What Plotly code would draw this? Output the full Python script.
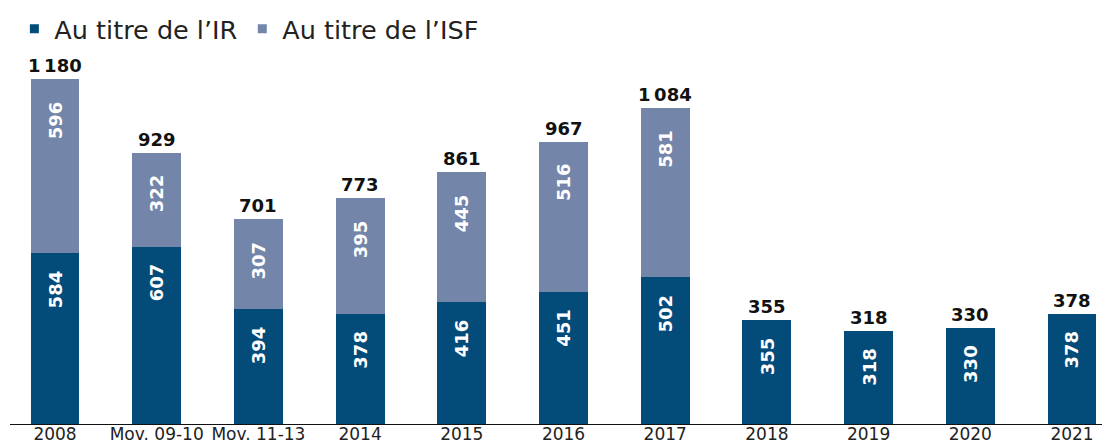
import plotly.graph_objects as go

categories = ["2008", "Mov. 09-10", "Mov. 11-13", "2014", "2015", "2016", "2017", "2018", "2019", "2020", "2021"]
ir_values = [584, 607, 394, 378, 416, 451, 502, 355, 318, 330, 378]
isf_values = [596, 322, 307, 395, 445, 516, 581, 0, 0, 0, 0]
total_labels = ["1\u202f180", "929", "701", "773", "861", "967", "1\u202f084", "355", "318", "330", "378"]

IR_COLOR = "#034b79"
ISF_COLOR = "#7385a8"
FONT = "DejaVu Sans"

x = list(range(len(categories)))
totals = [a + b for a, b in zip(ir_values, isf_values)]

fig = go.Figure()
fig.add_trace(go.Bar(
    x=x, y=ir_values, name="Au titre de l\u2019IR", showlegend=False,
    marker=dict(color=IR_COLOR, line=dict(width=0)), width=0.48,
))
fig.add_trace(go.Bar(
    x=x, y=isf_values, name="Au titre de l\u2019ISF", showlegend=False,
    marker=dict(color=ISF_COLOR, line=dict(width=0)), width=0.48,
))
# legend entries with small square markers
for name, col in [("Au titre de l\u2019IR", IR_COLOR), ("Au titre de l\u2019ISF", ISF_COLOR)]:
    fig.add_trace(go.Scatter(
        x=[None], y=[None], mode="markers", name=name,
        marker=dict(symbol="square", size=9, color=col),
    ))

# inside labels (rotated), placed just below each segment top
for xi, v in zip(x, ir_values):
    fig.add_annotation(x=xi, y=v, text="<b>%d</b>" % v, showarrow=False, textangle=-90,
                       yanchor="top", yshift=-15,
                       font=dict(size=18, color="white", family=FONT))
for xi, base, v in zip(x, ir_values, isf_values):
    if v:
        fig.add_annotation(x=xi, y=base + v, text="<b>%d</b>" % v, showarrow=False, textangle=-90,
                           yanchor="top", yshift=-20,
                           font=dict(size=18, color="white", family=FONT))

# totals above bars
for xi, t, lbl in zip(x, totals, total_labels):
    fig.add_annotation(x=xi, y=t, text="<b>" + lbl + "</b>", showarrow=False,
                       yanchor="bottom", yshift=1,
                       font=dict(size=18, color="#111", family=FONT))

fig.update_layout(
    barmode="stack",
    width=1102, height=446,
    margin=dict(l=10, r=0, t=60, b=22),
    paper_bgcolor="white", plot_bgcolor="white",
    font=dict(family=FONT, color="#222"),
    legend=dict(orientation="h", x=0.004, y=1.085, xanchor="left", yanchor="middle",
                font=dict(size=25.5, color="#222", family=FONT),
                itemwidth=30, traceorder="normal", bgcolor="rgba(0,0,0,0)"),
    showlegend=True,
)
fig.update_xaxes(
    tickvals=x, ticktext=categories, range=[-0.4425, 10.295],
    showline=True, linecolor="#111", linewidth=1.2, tickangle=0,
    ticks="", showgrid=False, zeroline=False, automargin=False,
    ticklabelstandoff=-6,
    tickfont=dict(size=17, color="#222", family=FONT),
)
fig.update_yaxes(range=[0, 1246], visible=False, showgrid=False, zeroline=False)

fig.write_html("out.html", config={"displayModeBar": False},
               post_script="document.body.style.margin='0';document.body.style.overflow='hidden';")
